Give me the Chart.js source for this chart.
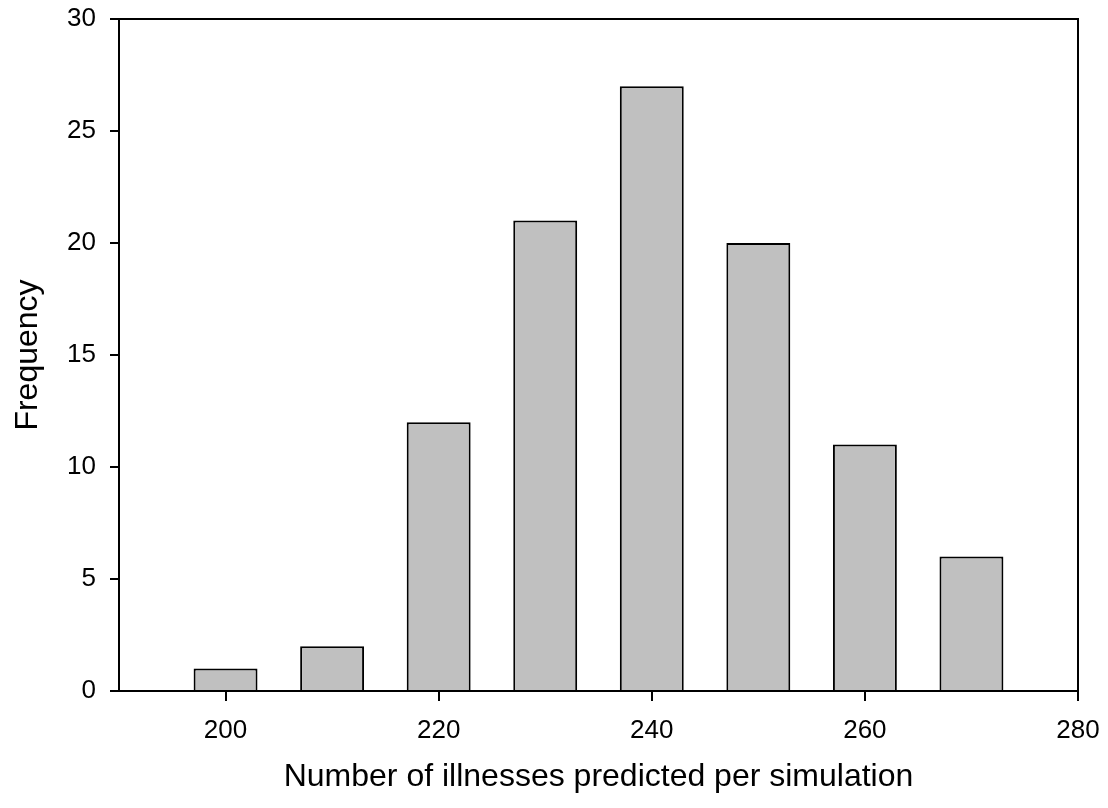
<!DOCTYPE html>
<html>
<head>
<meta charset="utf-8">
<script src="https://cdn.jsdelivr.net/npm/chart.js@4/dist/chart.umd.min.js"></script>
<style>
  html, body { margin: 0; padding: 0; background: #fff; }
  canvas { display: block; }
</style>
</head>
<body>
<canvas id="hist" width="1108" height="808"></canvas>
<script>
// Histogram of simulated illness counts
const binCenters = [200, 210, 220, 230, 240, 250, 260, 270];
const frequencies = [1, 2, 12, 21, 27, 20, 11, 6];
const xTickValues = [200, 220, 240, 260, 280];
const yTickValues = [0, 5, 10, 15, 20, 25, 30];

const FONT = "'Liberation Sans', Arial, sans-serif";

// closes the plot box along its top and right edges
const boxFrame = {
  id: 'boxFrame',
  afterDraw(chart) {
    const { ctx, chartArea: a } = chart;
    ctx.save();
    ctx.strokeStyle = '#000';
    ctx.lineWidth = 2;
    ctx.beginPath();
    ctx.moveTo(a.left, a.top);
    ctx.lineTo(a.right, a.top);
    ctx.lineTo(a.right, a.bottom);
    ctx.stroke();
    ctx.restore();
  }
};

new Chart(document.getElementById('hist'), {
  type: 'bar',
  data: {
    datasets: [{
      data: binCenters.map((x, i) => ({ x: x, y: frequencies[i] })),
      backgroundColor: '#c0c0c0',
      borderColor: '#000',
      borderWidth: 2,
      barPercentage: 0.6,
      categoryPercentage: 1.0
    }]
  },
  options: {
    responsive: false,
    animation: false,
    devicePixelRatio: 1,
    layout: { padding: { top: 19, right: 30, left: 0, bottom: 0 } },
    plugins: { legend: { display: false }, tooltip: { enabled: false } },
    scales: {
      x: {
        type: 'linear',
        min: 190,
        max: 280,
        offset: false,
        afterBuildTicks(scale) { scale.ticks = xTickValues.map(v => ({ value: v })); },
        afterFit(scale) {
          scale.height = 117;
          scale.paddingLeft = 0;
          scale.paddingRight = 0;
        },
        ticks: { color: '#000', font: { family: FONT, size: 26 }, padding: 14, maxRotation: 0 },
        grid: { drawOnChartArea: false, drawTicks: true, tickLength: 10, color: '#000', lineWidth: 2, offset: false },
        border: { display: true, color: '#000', width: 2 },
        title: { display: true, text: 'Number of illnesses predicted per simulation', color: '#000',
                 font: { family: FONT, size: 32 }, padding: { top: 0, bottom: 12 } }
      },
      y: {
        min: 0,
        max: 30,
        afterBuildTicks(scale) { scale.ticks = yTickValues.map(v => ({ value: v })); },
        afterFit(scale) {
          scale.width = 119;
          scale.paddingTop = 0;
          scale.paddingBottom = 0;
        },
        ticks: { color: '#000', font: { family: FONT, size: 26 }, padding: 14 },
        grid: { drawOnChartArea: false, drawTicks: true, tickLength: 9, color: '#000', lineWidth: 2 },
        border: { display: true, color: '#000', width: 2 },
        title: { display: true, text: 'Frequency', color: '#000',
                 font: { family: FONT, size: 32 }, padding: { top: 9, bottom: 0 } }
      }
    }
  },
  plugins: [boxFrame]
});
</script>
</body>
</html>
